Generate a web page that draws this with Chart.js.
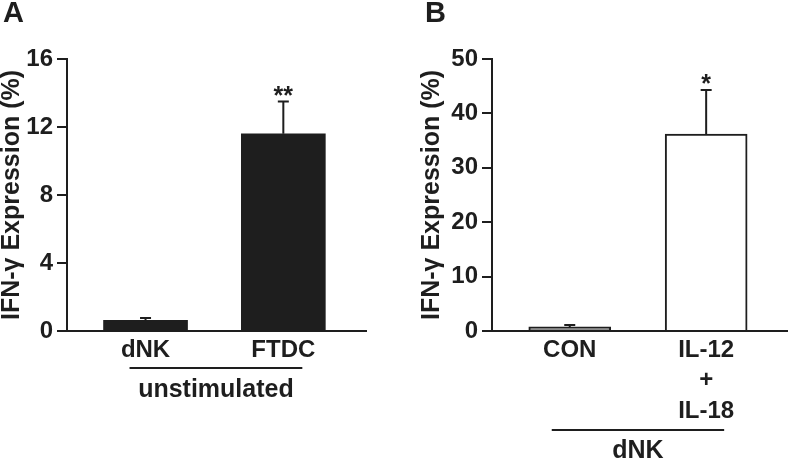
<!DOCTYPE html>
<html>
<head>
<meta charset="utf-8">
<title>IFN-γ expression</title>
<script src="https://cdn.jsdelivr.net/npm/chart.js@4.4.1/dist/chart.umd.min.js"></script>
<style>
  body { margin: 0; background: #fff; }
  #wrap { position: relative; width: 788px; height: 460px; }
  canvas { position: absolute; top: 0; }
  #panelA { left: 0; }
  #panelB { left: 390px; }
</style>
</head>
<body>
<div id="wrap">
  <canvas id="panelA" width="390" height="460"></canvas>
  <canvas id="panelB" width="398" height="460"></canvas>
</div>
<script>
// panel A - unstimulated cells
const labelsA = ['dNK', 'FTDC'];
const valuesA = [0.63, 11.6];
const errorsA = [0.14, 1.9];
const starsA = ['', '**'];
const ticksA = [0, 4, 8, 12, 16];

// panel B - dNK, control vs cytokines
const labelsB = ['CON', ['IL-12', '+', 'IL-18']];
const valuesB = [0.75, 36.2];
const errorsB = [0.35, 8.1];
const starsB = ['', '*'];
const ticksB = [0, 10, 20, 30, 40, 50];

const ink = '#1e1e1e';
const fontFamily = '"Liberation Sans", Arial, sans-serif';
Chart.defaults.font.family = fontFamily;
Chart.defaults.color = ink;

// error bars, stars, group bracket and panel letter
const extras = (cfg) => ({
    id: 'extras',
    afterDatasetsDraw(chart) {
        const {ctx} = chart;
        const x = chart.scales.x, y = chart.scales.y;
        const bars = chart.getDatasetMeta(0).data;
        ctx.save();
        ctx.strokeStyle = ink;
        ctx.fillStyle = ink;
        ctx.lineWidth = 2;
        bars.forEach((bar, i) => {
            const top = y.getPixelForValue(cfg.values[i] + cfg.errors[i]);
            ctx.beginPath();
            ctx.moveTo(bar.x, bar.y);
            ctx.lineTo(bar.x, top);
            ctx.moveTo(bar.x - 5.5, top);
            ctx.lineTo(bar.x + 5.5, top);
            ctx.stroke();
            if (cfg.stars[i]) {
                ctx.font = 'bold 25px ' + fontFamily;
                ctx.textAlign = 'center';
                ctx.textBaseline = 'alphabetic';
                ctx.fillText(cfg.stars[i], bar.x, top + 2);
            }
        });

        const x0 = x.getPixelForValue(1) + cfg.lineFrom;
        const x1 = x.getPixelForValue(cfg.labels.length) + cfg.lineTo;
        ctx.lineWidth = 1.8;
        ctx.beginPath();
        ctx.moveTo(x0, cfg.lineY);
        ctx.lineTo(x1, cfg.lineY);
        ctx.stroke();
        ctx.font = 'bold 25px ' + fontFamily;
        ctx.textAlign = 'center';
        ctx.textBaseline = 'alphabetic';
        ctx.fillText(cfg.group, (x0 + x1) / 2, cfg.groupY);

        ctx.font = 'bold 29px ' + fontFamily;
        ctx.textAlign = 'left';
        ctx.fillText(cfg.letter, cfg.letterX, 21.5);
        ctx.restore();
    }
});

function panel(id, cfg) {
    return new Chart(document.getElementById(id), {
        type: 'bar',
        data: {
            datasets: [{
                data: cfg.labels.map((l, i) => ({x: i + 1, y: cfg.values[i]})),
                backgroundColor: cfg.fill,
                borderColor: ink,
                borderWidth: cfg.border,
                barThickness: cfg.barWidth
            }]
        },
        options: {
            responsive: false,
            animation: false,
            layout: {padding: {top: 59, right: cfg.padRight, left: cfg.padLeft, bottom: 0}},
            plugins: {legend: {display: false}, tooltip: {enabled: false}},
            scales: {
                x: {
                    type: 'linear',
                    offset: false,
                    min: 0.43,
                    max: 2.6,
                    afterBuildTicks: a => { a.ticks = cfg.labels.map((l, i) => ({value: i + 1})); },
                    afterFit: a => { a.height = 129; },
                    grid: {display: true, offset: false, drawOnChartArea: false, drawTicks: false},
                    border: {display: true, color: ink, width: 2},
                    ticks: {
                        autoSkip: false, maxRotation: 0, padding: 4, color: ink,
                        font: {size: 24, weight: 'bold', lineHeight: '30.5px'},
                        callback: v => cfg.labels[v - 1]
                    }
                },
                y: {
                    min: 0,
                    max: cfg.ticks[cfg.ticks.length - 1],
                    afterBuildTicks: a => { a.ticks = cfg.ticks.map(v => ({value: v})); },
                    afterFit: a => { a.width = cfg.axisWidth; },
                    grid: {drawOnChartArea: false, drawTicks: true, tickLength: 10, color: ink, lineWidth: 2},
                    border: {display: true, color: ink, width: 2},
                    ticks: {padding: 4, color: ink, font: {size: 24, weight: 'bold'}},
                    title: {
                        display: true, text: 'IFN-γ Expression (%)', color: ink, padding: 0,
                        font: {size: 25, weight: 'bold', lineHeight: 1}
                    }
                }
            }
        },
        plugins: [extras(cfg)]
    });
}

panel('panelA', {
    labels: labelsA, values: valuesA, errors: errorsA, stars: starsA, ticks: ticksA,
    fill: [ink, ink], border: 0, barWidth: 84,
    padLeft: 0, padRight: 24, axisWidth: 67,
    letter: 'A', letterX: 3,
    group: 'unstimulated', lineFrom: -16, lineTo: 19, lineY: 368, groupY: 397
});

panel('panelB', {
    labels: labelsB, values: valuesB, errors: errorsB, stars: starsB, ticks: ticksB,
    fill: ['#8c8c8c', '#ffffff'], border: 2, barWidth: 82,
    padLeft: 30, padRight: 0, axisWidth: 72,
    letter: 'B', letterX: 35,
    group: 'dNK', lineFrom: -18, lineTo: 18, lineY: 430, groupY: 458
});
</script>
</body>
</html>
